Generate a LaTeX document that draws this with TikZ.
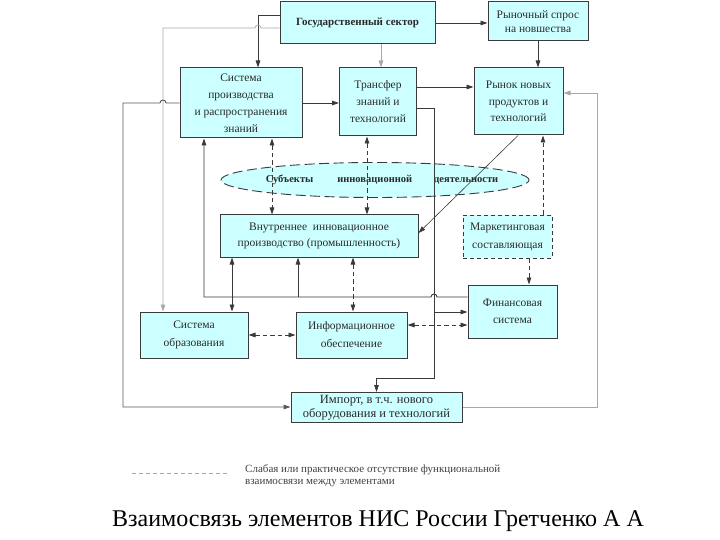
\documentclass[tikz,border=0pt]{standalone}
\usepackage{fontspec}
\setmainfont{Liberation Serif}
\usetikzlibrary{arrows.meta,shapes.geometric}
\definecolor{boxfill}{HTML}{CCFFFF}
\definecolor{edge}{HTML}{3A3A3A}
\definecolor{lightline}{HTML}{A8A8A8}
\definecolor{txt}{HTML}{2A2A2A}
\newcommand{\boxfont}[1]{\fontsize{11.5}{#1}\selectfont}
\begin{document}
\begin{tikzpicture}[x=1pt,y=-1pt,
  box/.style={draw=edge, line width=1pt, fill=boxfill, inner sep=0pt, align=center,
    font=\boxfont{17}, text=txt},
  dbox/.style={box, dash pattern=on 4pt off 3pt, line width=0.8pt},
  tip/.style={-{Triangle[length=7pt,width=4.6pt]}},
  link/.style={draw=edge, line width=0.9pt},
  glink/.style={draw=lightline, line width=0.7pt},
  dlink/.style={draw=edge, line width=0.9pt, dash pattern=on 4.5pt off 3pt},
  both/.style={{Triangle[length=7pt,width=4.6pt]}-{Triangle[length=7pt,width=4.6pt]}}
]
\useasboundingbox (0,0) rectangle (720,540);

% boxes
\node[box, minimum width=155pt, minimum height=42pt, font=\fontsize{11}{17}\selectfont\bfseries] (gov) at (357.5,23) {Государственный сектор};
\node[box, minimum width=100pt, minimum height=39pt, font=\boxfont{13.5}] (spros) at (538,21.5) {Рыночный спрос\\на новшества};
\node[box, minimum width=122pt, minimum height=70pt] (spz) at (241,103) {Система\\производства\\и распространения\\знаний};
\node[box, minimum width=77pt, minimum height=68pt] (tr) at (378,102) {Трансфер\\знаний и\\технологий};
\node[box, minimum width=89pt, minimum height=67pt, font=\boxfont{16.5}] (ryn) at (518.5,101.5) {Рынок новых\\продуктов и\\технологий};
\node[ellipse, draw=edge, line width=0.9pt, dash pattern=on 10pt off 4.5pt, fill=boxfill, inner sep=0pt,
  minimum width=308pt, minimum height=35pt, font=\fontsize{10.5}{12}\selectfont\bfseries, text=txt] (ell) at (375,180)
  {\makebox[0pt]{\hspace{14pt}Субъекты\hspace{24pt}инновационной\hspace{22pt}деятельности}};
\node[box, minimum width=198pt, minimum height=42pt, font=\boxfont{15.5}] (vnu) at (319,236) {Внутреннее\ \ инновационное\\производство (промышленность)};
\node[dbox, minimum width=89pt, minimum height=43pt, font=\boxfont{18}] (mkt) at (507.5,236.5) {Маркетинговая\\составляющая};
\node[box, minimum width=89pt, minimum height=53pt] (fin) at (512.5,311.5) {Финансовая\\система};
\node[box, minimum width=108pt, minimum height=46pt, font=\boxfont{18}] (obr) at (194,335) {Система\\образования};
\node[box, minimum width=111pt, minimum height=46pt, font=\boxfont{18}] (inf) at (351.5,335) {Информационное\\обеспечение};
\node[box, minimum width=171pt, minimum height=30pt, font=\fontsize{12.5}{14}\selectfont] (imp) at (376.5,407.5) {Импорт, в т.ч. нового\\оборудования и технологий};

% connectors
\draw[link, tip] (gov.east) -- (gov.east -| spros.west);
\draw[glink, tip] (gov.south -| 381,0) -- (tr.north -| 381,0);
\draw[link, tip] (gov.west |- 0,15) -| (258,0 |- spz.north);
\draw[glink, tip] (gov.west |- 0,28) -- (261,28) arc[start angle=0, end angle=-180, radius=3] -- (163,28) -- (163,0 |- obr.north);
\draw[link, draw=edge!85, tip] (spz.west) -- (166,103) arc[start angle=0, end angle=-180, radius=3] -- (123,103) -- (123,407) -- (imp.west |- 0,407);
\draw[link, tip] (spros.south) -- (spros.south |- ryn.north);
\draw[link, tip] (spz.east) -- (spz.east -| tr.west);
\draw[link, tip] (tr.east |- 0,87) -- (ryn.west |- 0,87);
\draw[link, tip] (tr.east |- 0,108) -- (434,108) -- (434,378) -- (imp.north |- 0,378) -- (imp.north);
\draw[link, tip] (434,312) -- (fin.west |- 0,312);
\draw[link, tip] (fin.west |- 0,297) -- (437,297) arc[start angle=0, end angle=-180, radius=3] -- (204,297) -- (204,0 |- spz.south);
\draw[link, tip] (298,297) -- (298,0 |- vnu.south);
\draw[dlink, both] (272,0 |- spz.south) -- (272,0 |- vnu.north);
\draw[dlink, both] (367,0 |- tr.south) -- (367,0 |- vnu.north);
\draw[dlink, tip] (543,0 |- mkt.north) -- (543,0 |- ryn.south);
\draw[draw=edge, line width=0.6pt, tip] (518,0 |- ryn.south) -- (vnu.east |- 0,233);
\draw[dlink, tip] (529,0 |- mkt.south) -- (529,0 |- fin.north);
\draw[link, both] (232,0 |- vnu.south) -- (232,0 |- obr.north);
\draw[dlink, both] (353,0 |- vnu.south) -- (353,0 |- inf.north);
\draw[dlink, both] (obr.east) -- (inf.west);
\draw[dlink, both] (inf.east |- 0,325) -- (fin.west |- 0,325);
\draw[glink, tip] (imp.east |- 0,407) -- (597,407) -- (597,93) -- (ryn.east |- 0,93);

% legend
\coordinate (l1) at (132,473);
\coordinate (l2) at (228,473);
\draw[draw=lightline, line width=0.8pt, dash pattern=on 4pt off 3pt] (l1) -- (l2);
\node[anchor=west, align=left, inner sep=0pt, font=\fontsize{11}{12}\selectfont, text=black!75] (leg) at (245,476)
  {Слабая или практическое отсутствие функциональной\\взаимосвязи между элементами};

% title
\node[inner sep=0pt, font=\fontsize{24}{28}\selectfont] (title) at (378,521) {Взаимосвязь элементов НИС России Гретченко А А};
\end{tikzpicture}
\end{document}
